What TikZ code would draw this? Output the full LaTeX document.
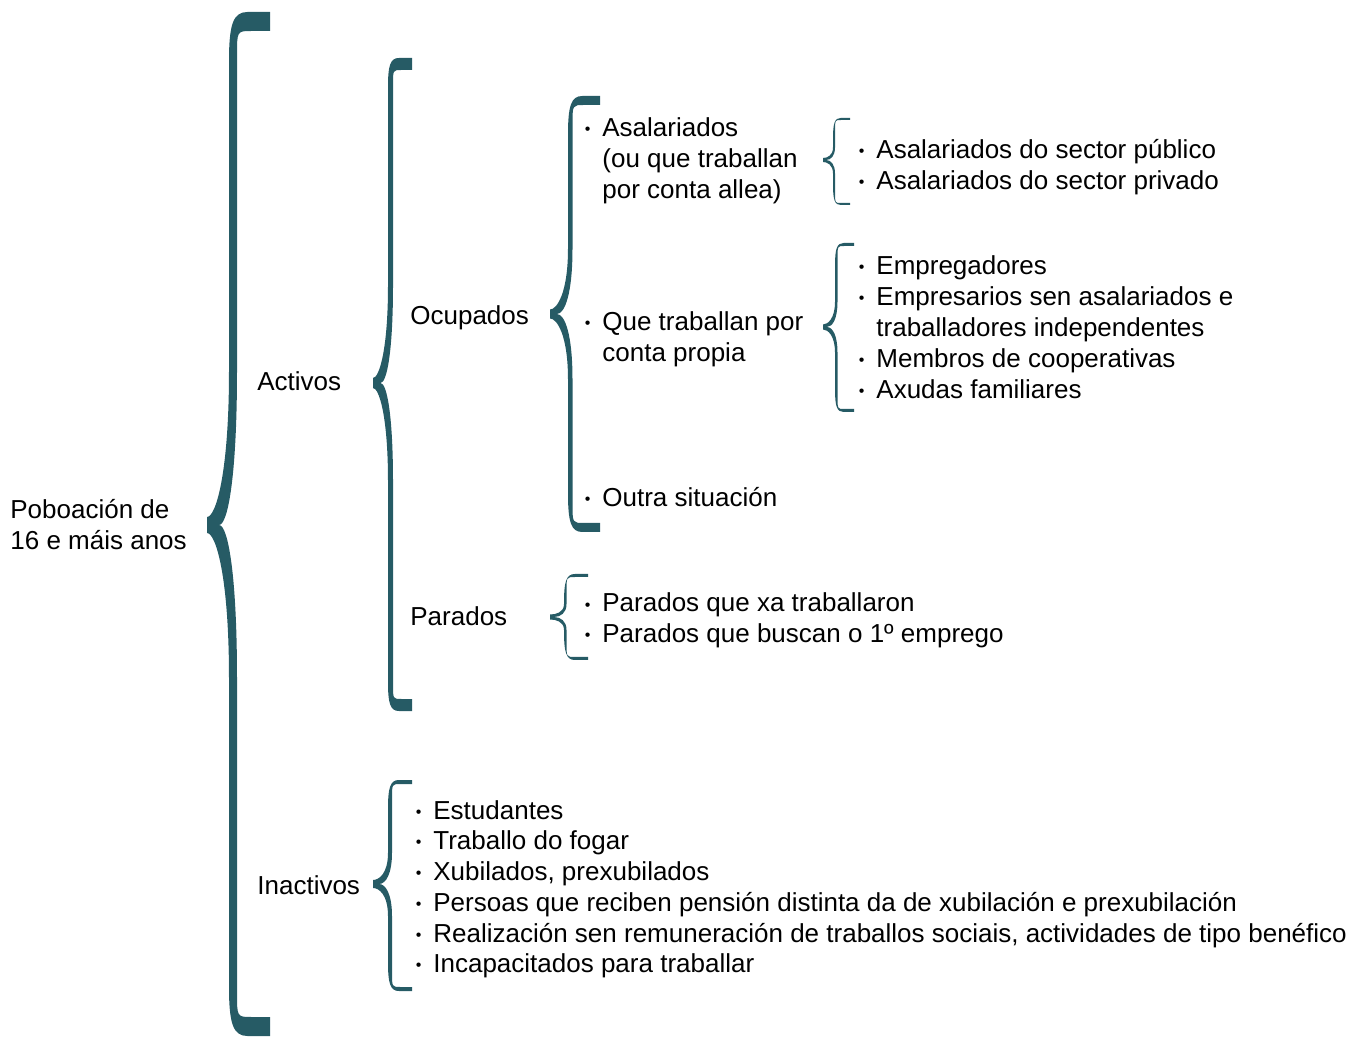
\documentclass[tikz,border=0pt]{standalone}
\usepackage{fontspec}
\setmainfont{Liberation Sans}

\definecolor{bracecol}{RGB}{38,91,101}

% filled brace: tip x, tip y, top y, bottom y, line x, end x, width, cap
\newcommand\tealbrace[8]{%
  \pgfmathsetmacro\brR{#6-#5}
  \pgfmathsetmacro\brHa{#2-#3}
  \pgfmathsetmacro\brHb{#4-#2}
  \fill[bracecol] (#6,#3) -- ({#5+0.45*\brR},#3)
    .. controls ({#5+0.1*\brR},#3) and (#5,{#3+0.3*\brR}) .. (#5,{#3+1.2*\brR})
    -- (#5,{#2-0.3*\brHa})
    .. controls (#5,{#2-0.1*\brHa}) and ({#1+0.4*(#5-#1)},{#2-#7}) .. (#1,{#2-#7})
    -- (#1,{#2+#7})
    .. controls ({#1+0.4*(#5-#1)},{#2+#7}) and (#5,{#2+0.1*\brHb}) .. (#5,{#2+0.3*\brHb})
    -- (#5,{#4-1.2*\brR})
    .. controls (#5,{#4-0.3*\brR}) and ({#5+0.1*\brR},#4) .. ({#5+0.45*\brR},#4)
    -- (#6,#4) -- (#6,{#4-#8})
    -- ({#5+#7+0.35*\brR},{#4-#8})
    .. controls ({#5+#7},{#4-#8}) .. ({#5+#7},{#4-#8-0.6*\brR})
    -- ({#5+#7},{#2+0.3*\brHb})
    .. controls ({#5+#7},{#2+0.1*\brHb}) and ({#1+0.6*(#5-#1)+#7},#2) .. ({#1+1.5*#7},#2)
    .. controls ({#1+0.6*(#5-#1)+#7},#2) and ({#5+#7},{#2-0.1*\brHa}) .. ({#5+#7},{#2-0.3*\brHa})
    -- ({#5+#7},{#3+#8+0.6*\brR})
    .. controls ({#5+#7},{#3+#8}) .. ({#5+#7+0.35*\brR},{#3+#8})
    -- (#6,{#3+#8}) -- cycle;
}
\newcommand\itm{\makebox[0pt][r]{\raisebox{1pt}{\fontsize{8}{8}\selectfont•}\hspace{6pt}}}
\newcommand\rows[1]{\begin{tabular}[t]{@{}l@{}}#1\end{tabular}}

\tikzset{lbl/.style={anchor=base west,inner sep=0pt,font=\fontsize{13}{15.4}\selectfont}}

\begin{document}
\begin{tikzpicture}[x=0.5pt,y=-0.5pt]
    \useasboundingbox (0,0) rectangle (1372,1037);

    %braces:
    \tealbrace{207}{525}{12}{1036}{229}{270}{8}{19}
    \tealbrace{373}{383}{58}{711}{388}{412}{5}{12}
    \tealbrace{550}{314}{96}{532}{568}{600}{4.5}{9}
    \tealbrace{823}{160}{118}{205}{833}{850}{2}{2}
    \tealbrace{823}{327}{243}{412}{835}{854}{2.5}{3}
    \tealbrace{550}{617}{574}{660}{564}{588}{2.5}{3}
    \tealbrace{373}{884}{780}{991}{388}{412}{4}{4}

    %first levels:
    \node[lbl] (pob) at (10,519) {\rows{Poboación de\\16 e máis anos}};
    \node[lbl] (activos) at (257,391) {Activos};
    \node[lbl] (inactivos) at (257,894) {Inactivos};
    \node[lbl] (ocupados) at (410,325) {Ocupados};
    \node[lbl] (parados) at (410,625) {Parados};

    %items:
    \node[lbl] (asal) at (602,137) {\rows{\itm Asalariados\\(ou que traballan\\por conta allea)}};
    \node[lbl] (propia) at (602,331) {\rows{\itm Que traballan por\\conta propia}};
    \node[lbl] (outra) at (602,507) {\itm Outra situación};
    \node[lbl] (sector) at (876,159) {\rows{\itm Asalariados do sector público\\
        \itm Asalariados do sector privado}};
    \node[lbl] (empreg) at (876,275) {\rows{\itm Empregadores\\
        \itm Empresarios sen asalariados e\\traballadores independentes\\
        \itm Membros de cooperativas\\\itm Axudas familiares}};
    \node[lbl] (paradlist) at (602,612) {\rows{\itm Parados que xa traballaron\\
        \itm Parados que buscan o 1º emprego}};
    \node[lbl] (inactlist) at (433,819) {\rows{\itm Estudantes\\\itm Traballo do fogar\\
        \itm Xubilados, prexubilados\\
        \itm Persoas que reciben pensión distinta da de xubilación e prexubilación\\
        \itm Realización sen remuneración de traballos sociais, actividades de tipo benéfico\\
        \itm Incapacitados para traballar}};

\end{tikzpicture}
\end{document}
